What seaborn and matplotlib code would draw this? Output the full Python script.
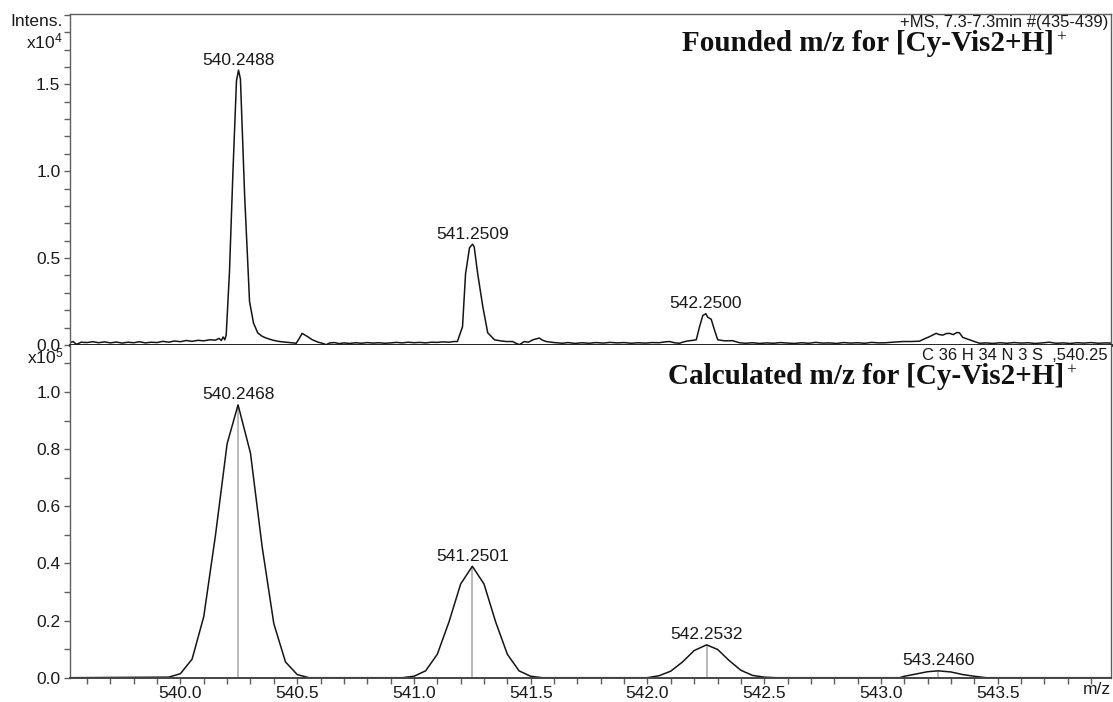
import numpy as np
import pandas as pd
import matplotlib
matplotlib.use("Agg")
import matplotlib.pyplot as plt
from matplotlib.ticker import MultipleLocator, FormatStrFormatter
import seaborn as sns

# ---- measured spectrum (intensity in units of 1e4) ----
top_mz = [539.525, 539.540, 539.555, 539.575, 539.600, 539.625, 539.650, 539.675, 539.700, 539.725,
          539.750, 539.775, 539.800, 539.825, 539.850, 539.875, 539.900, 539.925, 539.950, 539.975,
          540.000, 540.025, 540.050, 540.075, 540.100, 540.125, 540.150, 540.165, 540.175, 540.183,
          540.190, 540.196, 540.210, 540.225, 540.240, 540.2488, 540.257, 540.275, 540.296, 540.313,
          540.331, 540.350, 540.367, 540.395, 540.424, 540.460, 540.496, 540.510, 540.521, 540.540,
          540.565, 540.590, 540.608, 540.624, 540.640, 540.660, 540.680, 540.700, 540.725, 540.750,
          540.775, 540.800, 540.825, 540.850, 540.875, 540.900, 540.925, 540.950, 540.975, 541.000,
          541.025, 541.050, 541.075, 541.100, 541.125, 541.150, 541.170, 541.186, 541.208, 541.221,
          541.238, 541.2509, 541.258, 541.273, 541.295, 541.316, 541.345, 541.370, 541.395, 541.422,
          541.440, 541.452, 541.463, 541.473, 541.490, 541.510, 541.537, 541.550, 541.566, 541.600,
          541.636, 541.660, 541.690, 541.720, 541.750, 541.780, 541.810, 541.840, 541.870, 541.900,
          541.930, 541.960, 541.990, 542.020, 542.050, 542.075, 542.094, 542.115, 542.137, 542.155,
          542.171, 542.190, 542.209, 542.223, 542.237, 542.2500, 542.258, 542.273, 542.287, 542.301,
          542.330, 542.364, 542.394, 542.420, 542.450, 542.480, 542.510, 542.540, 542.570, 542.600,
          542.630, 542.660, 542.690, 542.720, 542.750, 542.780, 542.810, 542.840, 542.870, 542.900,
          542.930, 542.960, 542.990, 543.020, 543.050, 543.093, 543.130, 543.165, 543.190, 543.208,
          543.236, 543.250, 543.265, 543.280, 543.293, 543.310, 543.325, 543.336, 543.350, 543.379,
          543.400, 543.422, 543.450, 543.480, 543.510, 543.540, 543.570, 543.600, 543.630, 543.660,
          543.690, 543.720, 543.750, 543.780, 543.810, 543.840, 543.870, 543.900, 543.930, 543.960,
          543.985]
top_int = [0.012, 0.020, 0.004, 0.016, 0.014, 0.019, 0.013, 0.018, 0.012, 0.017,
           0.011, 0.016, 0.013, 0.019, 0.012, 0.016, 0.014, 0.021, 0.016, 0.023,
           0.019, 0.026, 0.021, 0.027, 0.024, 0.030, 0.028, 0.038, 0.026, 0.046,
           0.030, 0.057, 0.420, 1.000, 1.520, 1.582, 1.530, 0.860, 0.250, 0.126,
           0.070, 0.050, 0.040, 0.028, 0.020, 0.015, 0.010, 0.040, 0.067, 0.052,
           0.030, 0.016, 0.010, 0.002, 0.012, 0.014, 0.008, 0.012, 0.009, 0.013,
           0.010, 0.014, 0.011, 0.013, 0.010, 0.012, 0.015, 0.012, 0.016, 0.013,
           0.015, 0.012, 0.016, 0.015, 0.018, 0.016, 0.020, 0.020, 0.105, 0.410,
           0.560, 0.580, 0.565, 0.410, 0.220, 0.070, 0.030, 0.024, 0.020, 0.020,
           0.008, 0.002, 0.012, 0.020, 0.016, 0.030, 0.040, 0.028, 0.020, 0.014,
           0.010, 0.014, 0.009, 0.013, 0.010, 0.014, 0.011, 0.015, 0.012, 0.014,
           0.010, 0.013, 0.011, 0.014, 0.013, 0.018, 0.020, 0.013, 0.010, 0.018,
           0.023, 0.026, 0.030, 0.105, 0.170, 0.180, 0.160, 0.148, 0.086, 0.030,
           0.024, 0.025, 0.013, 0.010, 0.013, 0.009, 0.012, 0.010, 0.014, 0.011,
           0.009, 0.013, 0.010, 0.015, 0.011, 0.012, 0.009, 0.014, 0.011, 0.013,
           0.010, 0.015, 0.012, 0.013, 0.016, 0.020, 0.020, 0.022, 0.038, 0.048,
           0.067, 0.060, 0.057, 0.066, 0.067, 0.060, 0.072, 0.070, 0.044, 0.030,
           0.020, 0.010, 0.012, 0.009, 0.013, 0.010, 0.014, 0.011, 0.013, 0.009,
           0.012, 0.016, 0.010, 0.012, 0.009, 0.013, 0.011, 0.014, 0.010, 0.012,
           0.011]

top_peak_mz = [540.2488, 541.2509, 542.2500]
top_peak_int = [1.582, 0.580, 0.180]

# ---- calculated isotope pattern (intensity in units of 1e5) ----
calc_mz = [539.525, 539.95, 540.00, 540.05, 540.10, 540.15, 540.20, 540.2468, 540.30, 540.35,
           540.40, 540.45, 540.50, 540.55, 540.95, 541.00, 541.05, 541.10, 541.15, 541.20,
           541.2501, 541.30, 541.35, 541.40, 541.45, 541.50, 541.55, 542.00, 542.05, 542.10,
           542.15, 542.20, 542.2532, 542.30, 542.35, 542.40, 542.45, 542.50, 542.55, 543.08,
           543.10, 543.15, 543.20, 543.2460, 543.30, 543.35, 543.40, 543.45, 543.985]
calc_int = [0.0, 0.002, 0.014, 0.065, 0.214, 0.498, 0.819, 0.955, 0.786, 0.458,
            0.189, 0.055, 0.011, 0.0, 0.0, 0.005, 0.024, 0.082, 0.195, 0.328,
            0.390, 0.328, 0.195, 0.082, 0.024, 0.005, 0.0, 0.0, 0.007, 0.023,
            0.055, 0.095, 0.115, 0.099, 0.060, 0.026, 0.008, 0.002, 0.0, 0.0,
            0.005, 0.013, 0.021, 0.024, 0.020, 0.011, 0.005, 0.0, 0.0]

stick_mz = [540.2468, 541.2501, 542.2532, 543.2460]
stick_int = [0.955, 0.390, 0.115, 0.024]

sns.set_style("ticks")
plt.rcParams["font.family"] = ["Liberation Sans", "DejaVu Sans"]
plt.rcParams["mathtext.fontset"] = "custom"
plt.rcParams["mathtext.rm"] = "Liberation Sans"
plt.rcParams["mathtext.it"] = "Liberation Sans"
plt.rcParams["mathtext.bf"] = "Liberation Sans:bold"

W, H = 1113, 702
fig = plt.figure(figsize=(W / 100, H / 100), dpi=100)
left, right = 69.5 / W, 1111 / W
ax1 = fig.add_axes([left, 1 - 345 / H, right - left, (345 - 14) / H])
ax2 = fig.add_axes([left, 1 - 677.7 / H, right - left, (677.7 - 345) / H])

XMIN, XMAX = 539.525, 543.985
spine_c = "#5f5f5f"
text_c = "#1a1a1a"

top_df = pd.DataFrame({"mz": top_mz, "intensity": top_int})
calc_df = pd.DataFrame({"mz": calc_mz, "intensity": calc_int})

sns.lineplot(data=top_df, x="mz", y="intensity", ax=ax1, color="#151515", lw=1.1,
             estimator=None, sort=False)
ax2.vlines(stick_mz, 0, stick_int, color="#b4b4b4", lw=1.3, zorder=1)
sns.lineplot(data=calc_df, x="mz", y="intensity", ax=ax2, color="#151515", lw=1.1,
             estimator=None, sort=False, zorder=2)

for ax in (ax1, ax2):
    ax.set_xlim(XMIN, XMAX)
    ax.set_xlabel("")
    ax.set_ylabel("")
    for s in ax.spines.values():
        s.set_color(spine_c)
        s.set_linewidth(1.0)
        s.set_visible(True)
    ax.tick_params(axis="y", which="both", direction="out", length=4, width=1,
                   color=spine_c, labelsize=12.5, labelcolor=text_c, pad=2.5)

# top panel
ax1.set_ylim(0, 1.905)
ax1.yaxis.set_major_locator(MultipleLocator(0.5))
ax1.yaxis.set_minor_locator(MultipleLocator(0.1))
ax1.yaxis.set_major_formatter(FormatStrFormatter("%.1f"))
ax1.set_xticks([])
ax1.tick_params(axis="x", which="both", length=0, labelbottom=False)
ax1.spines["bottom"].set_color("#111111")
ax1.spines["bottom"].set_linewidth(2.0)
ax1.spines["bottom"].set_zorder(5)

# bottom panel
ax2.set_ylim(0, 1.1645)
ax2.yaxis.set_major_locator(MultipleLocator(0.2))
ax2.yaxis.set_minor_locator(MultipleLocator(0.1))
ax2.yaxis.set_major_formatter(FormatStrFormatter("%.1f"))
ax2.xaxis.set_major_locator(MultipleLocator(0.5))
ax2.xaxis.set_minor_locator(MultipleLocator(0.1))
ax2.xaxis.set_major_formatter(FormatStrFormatter("%.1f"))
ax2.spines["top"].set_visible(False)
ax2.spines["bottom"].set_color("#444444")
ax2.spines["bottom"].set_linewidth(1.4)
ax2.tick_params(axis="x", which="both", direction="out", length=4.5, width=1,
                color=spine_c, labelsize=12.5, labelcolor=text_c, pad=1.5)

# peak labels
for mz, it in zip(top_peak_mz, top_peak_int):
    ax1.annotate(f"{mz:.4f}", (mz, it), xytext=(0, 4), textcoords="offset points",
                 ha="center", va="baseline", fontsize=12.5, color=text_c)
for mz, it in zip(stick_mz, stick_int):
    ax2.annotate(f"{mz:.4f}", (mz, it), xytext=(0, 4), textcoords="offset points",
                 ha="center", va="baseline", fontsize=12.5, color=text_c)

def px(x, y):
    return x / W, 1 - y / H

fig.text(*px(63, 22), "Intens.", ha="right", va="center", fontsize=12.5, color=text_c)
fig.text(*px(63, 41), "x10$^4$", ha="right", va="center", fontsize=12.5, color=text_c)
fig.text(*px(63, 356), "x10$^5$", ha="right", va="center", fontsize=12.5, color=text_c)
fig.text(*px(1108, 22), "+MS, 7.3-7.3min #(435-439)", ha="right", va="center",
         fontsize=12, color=text_c)
fig.text(*px(1108, 355), "C 36 H 34 N 3 S  ,540.25", ha="right", va="center",
         fontsize=12, color=text_c)
fig.text(*px(1097, 690), "m/z", ha="center", va="center", fontsize=12.5, color=text_c)

# panel captions: bold serif text followed by a small superscript plus sign
TITLE_SIZE = 21
renderer = fig.canvas.get_renderer()
for (x0, yb), caption in [((682, 51), "Founded m/z for [Cy-Vis2+H]"),
                          ((668, 384), "Calculated m/z for [Cy-Vis2+H]")]:
    t = fig.text(*px(x0, yb), caption, ha="left", va="baseline", fontsize=TITLE_SIZE,
                 color="#111111", family="Liberation Serif", weight="bold")
    bb = t.get_window_extent(renderer)
    fig.text((bb.x1 + 2) / W, 1 - (yb - 0.33 * TITLE_SIZE * 100 / 72) / H, "+",
             ha="left", va="baseline", fontsize=12.5, color="#111111",
             family="Liberation Serif")

fig.savefig("out.png", dpi=100)
